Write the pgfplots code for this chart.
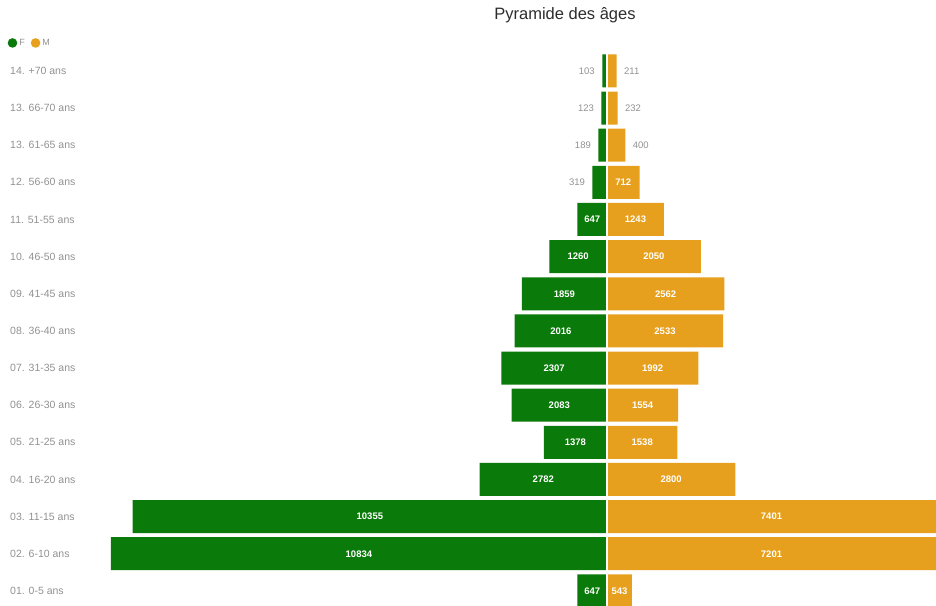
\documentclass[border=0pt]{standalone}
\usepackage{fontspec}
\setmainfont{Liberation Sans}
\usepackage{pgfplots}
\usepackage{pgfplotstable}
\pgfplotsset{compat=1.18}
\definecolor{fgreen}{RGB}{10,122,10}
\definecolor{morange}{RGB}{231,160,30}
\definecolor{labgray}{RGB}{145,145,145}
\definecolor{titlegray}{RGB}{45,45,45}
\newcommand{\valfont}{\fontsize{9.5}{11}\selectfont\bfseries}
\newcommand{\outfont}{\fontsize{9.5}{11}\selectfont}
\pgfplotstableread{
y F M Fin Min
1 647 543 1 1
2 10834 7201 1 1
3 10355 7401 1 1
4 2782 2800 1 1
5 1378 1538 1 1
6 2083 1554 1 1
7 2307 1992 1 1
8 2016 2533 1 1
9 1859 2562 1 1
10 1260 2050 1 1
11 647 1243 1 1
12 319 712 0 1
13 189 400 0 0
14 123 232 0 0
15 103 211 0 0
}\data
\begin{document}
\begin{tikzpicture}
\useasboundingbox (0,0) rectangle (936pt,605pt);
\begin{axis}[
  at={(0,0)}, anchor=south west,
  scale only axis, width=936pt, height=605pt,
  xmin=-13253, xmax=7183,
  ymin=0.62, ymax=16.91,
  axis line style={draw=none},
  major tick length=0pt,
  xtick=\empty,
  ytick={1,...,15},
  yticklabels={{01. 0-5 ans},{02. 6-10 ans},{03. 11-15 ans},{04. 16-20 ans},{05. 21-25 ans},{06. 26-30 ans},{07. 31-35 ans},{08. 36-40 ans},{09. 41-45 ans},{10. 46-50 ans},{11. 51-55 ans},{12. 56-60 ans},{13. 61-65 ans},{13. 66-70 ans},{14. +70 ans}},
  yticklabel style={anchor=west, xshift=10pt, inner sep=0pt, text=labgray, font=\fontsize{10.5}{12}\selectfont},
  legend style={at={(rel axis cs:0.008,0.929)}, anchor=west, draw=none, fill=none,
    font=\fontsize{9}{10}\selectfont, text=labgray, inner sep=0pt,
    /tikz/every even column/.append style={column sep=4pt}},
  legend columns=2,
]
\addplot[xbar, bar width=33pt, bar shift=0pt, fill=fgreen, draw=none,
  legend image code/.code={\fill[fgreen] (0.1cm,0) circle (4.8pt);}]
  table[x expr=-\thisrow{F}, y=y]{\data};
\addlegendentry{F}
\addplot[xbar, bar width=33pt, bar shift=0pt, fill=morange, draw=none,
  legend image code/.code={\fill[morange] (0.1cm,0) circle (4.8pt);}]
  table[x=M, y=y]{\data};
\addlegendentry{M}
\draw[white, line width=1.2pt] (axis cs:0,0.4) -- (axis cs:0,16);
% labels
\addplot[draw=none, mark=none, nodes near coords, point meta=explicit symbolic,
  nodes near coords style={text=white, font=\valfont, anchor=center},
  restrict expr to domain={\thisrow{Fin}}{1:1}, forget plot]
  table[x expr=-\thisrow{F}/2, y=y, meta=F]{\data};
\addplot[draw=none, mark=none, nodes near coords, point meta=explicit symbolic,
  nodes near coords style={text=labgray, font=\outfont, anchor=east, xshift=-4pt},
  restrict expr to domain={\thisrow{Fin}}{0:0}, forget plot]
  table[x expr=-\thisrow{F}, y=y, meta=F]{\data};
\addplot[draw=none, mark=none, nodes near coords, point meta=explicit symbolic,
  nodes near coords style={text=white, font=\valfont, anchor=center},
  restrict expr to domain={\thisrow{Min}}{1:1}, forget plot]
  table[x expr={min(\thisrow{M},7183)/2}, y=y, meta=M]{\data};
\addplot[draw=none, mark=none, nodes near coords, point meta=explicit symbolic,
  nodes near coords style={text=labgray, font=\outfont, anchor=west, xshift=4pt},
  restrict expr to domain={\thisrow{Min}}{0:0}, forget plot]
  table[x=M, y=y, meta=M]{\data};
\end{axis}
\node[text=titlegray, font=\fontsize{16.5}{19}\selectfont] at (565pt,590pt) {Pyramide des âges};
\end{tikzpicture}
\end{document}
